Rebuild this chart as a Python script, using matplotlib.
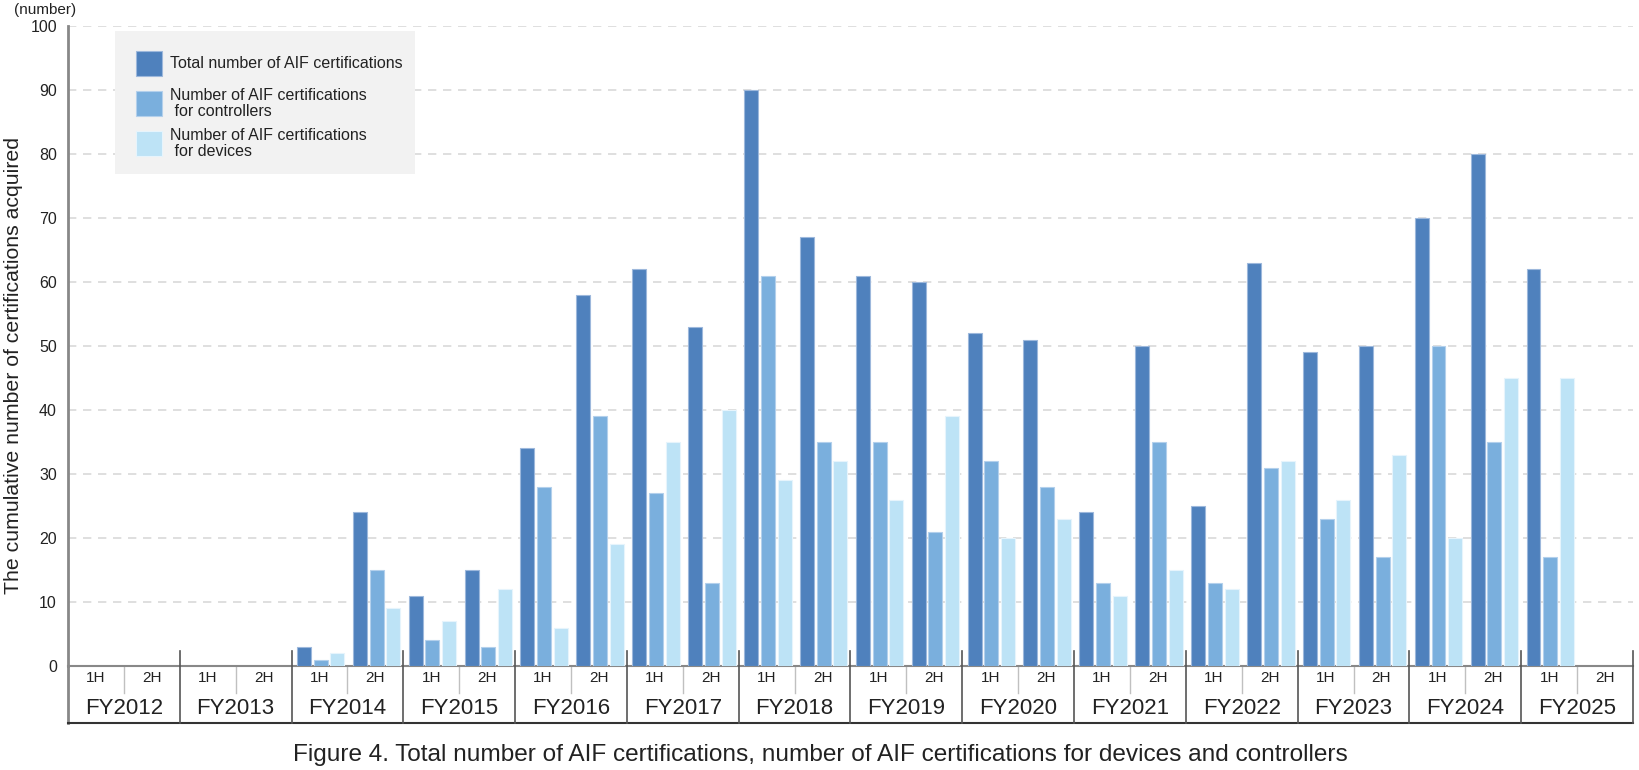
import numpy as np
import matplotlib.pyplot as plt
from matplotlib.patches import Rectangle
from matplotlib.transforms import blended_transform_factory

plt.rcParams['font.family'] = ['Liberation Sans', 'DejaVu Sans']

nan = np.nan
fiscal_years = ['FY2012', 'FY2013', 'FY2014', 'FY2015', 'FY2016', 'FY2017', 'FY2018',
                'FY2019', 'FY2020', 'FY2021', 'FY2022', 'FY2023', 'FY2024', 'FY2025']
half_labels = ['1H', '2H']
# one value per half year: FY2012 1H, FY2012 2H, FY2013 1H, ...
total = [nan, nan, nan, nan, 3, 24, 11, 15, 34, 58, 62, 53, 90, 67,
         61, 60, 52, 51, 24, 50, 25, 63, 49, 50, 70, 80, 62, nan]
controllers = [nan, nan, nan, nan, 1, 15, 4, 3, 28, 39, 27, 13, 61, 35,
               35, 21, 32, 28, 13, 35, 13, 31, 23, 17, 50, 35, 17, nan]
devices = [nan, nan, nan, nan, 2, 9, 7, 12, 6, 19, 35, 40, 29, 32,
           26, 39, 20, 23, 11, 15, 12, 32, 26, 33, 20, 45, 45, nan]

series_names = ['Total number of AIF certifications',
                'Number of AIF certifications\n for controllers',
                'Number of AIF certifications\n for devices']
colors = ['#4f81bd', '#7aafdd', '#bde3f6']
edges = ['#9db8dc', '#b3d0ec', '#e6f4fc']

W, H = 1640, 770
fig = plt.figure(figsize=(W / 100, H / 100), dpi=100)
x0, x1, ytop, yzero = 68, 1633, 26, 666
ax = fig.add_axes([x0 / W, 1 - yzero / H, (x1 - x0) / W, (yzero - ytop) / H])

n_half = len(total)
xpos = np.arange(n_half) + 0.52
bw = 0.25
for k, vals in enumerate([total, controllers, devices]):
    ax.bar(xpos + (k - 1) * 0.30, vals, width=bw, color=colors[k],
           edgecolor=edges[k], linewidth=0.8, zorder=3)

ax.set_xlim(0, n_half)
ax.set_ylim(0, 100)
ax.set_yticks(np.arange(0, 101, 10))
ax.set_xticks([])
ax.tick_params(axis='y', length=0, labelsize=11.5, pad=8, colors='#222222')
ax.grid(axis='y', color='#d9d9d9', linestyle=(0, (5, 4)), linewidth=1.2, zorder=0)
for s in ['top', 'right']:
    ax.spines[s].set_visible(False)
ax.spines['left'].set_color('#888888')
ax.spines['left'].set_linewidth(2)
ax.spines['bottom'].set_color('#888888')
ax.spines['bottom'].set_linewidth(1.5)

# category table below the axis
trans = blended_transform_factory(ax.transData, ax.transAxes)
px = 1.0 / (yzero - ytop)
y_half = -27 * px
y_bot = -57 * px
y_ext = 15 * px
ax.plot([0, 0], [0, y_bot], transform=trans, color='#888888', lw=2, clip_on=False)
ax.plot([0, n_half], [y_bot, y_bot], transform=trans, color='#333333', lw=1.5, clip_on=False)
for i in range(len(fiscal_years) + 1):
    if i > 0:
        ax.plot([2 * i, 2 * i], [y_ext, y_bot], transform=trans, color='#555555', lw=1.2,
                clip_on=False, zorder=4)
    if i < len(fiscal_years):
        ax.plot([2 * i + 1, 2 * i + 1], [0, y_half], transform=trans, color='#c0c0c0',
                lw=1, clip_on=False)
        ax.text(2 * i + 1, -42 * px, fiscal_years[i], transform=trans, ha='center',
                va='center', fontsize=16, color='#222222')
        for h in range(2):
            ax.text(2 * i + h + 0.5, -12 * px, half_labels[h], transform=trans, ha='center',
                    va='center', fontsize=11, color='#222222')

# legend box
def fx(p):
    return p / W

def fy(p):
    return 1 - p / H

fig.patches.append(Rectangle((fx(115), fy(174)), fx(415) - fx(115), fy(31) - fy(174),
                             transform=fig.transFigure, facecolor='#f2f2f2',
                             edgecolor='none', zorder=5))
for k, yc in enumerate([63.5, 103.5, 143.5]):
    fig.patches.append(Rectangle((fx(136), fy(yc + 12.5)), fx(26), 25 / H,
                                 transform=fig.transFigure, facecolor=colors[k],
                                 edgecolor=edges[k], lw=0.8, zorder=6))
    fig.text(fx(170), fy(yc), series_names[k], ha='left', va='center', fontsize=11.5,
             color='#222222', linespacing=1.0, zorder=7)

fig.text(fx(45), fy(10), '(number)', ha='center', va='center', fontsize=11, color='#222222')
fig.text(fx(14), fy(366), 'The cumulative number of certifications acquired', rotation=90,
         ha='center', va='center', fontsize=15.3, color='#222222')
fig.text(0.5, fy(755), 'Figure 4. Total number of AIF certifications, number of AIF '
         'certifications for devices and controllers', ha='center', va='center',
         fontsize=17.6, color='#222222')

fig.savefig('out.png', dpi=100)
